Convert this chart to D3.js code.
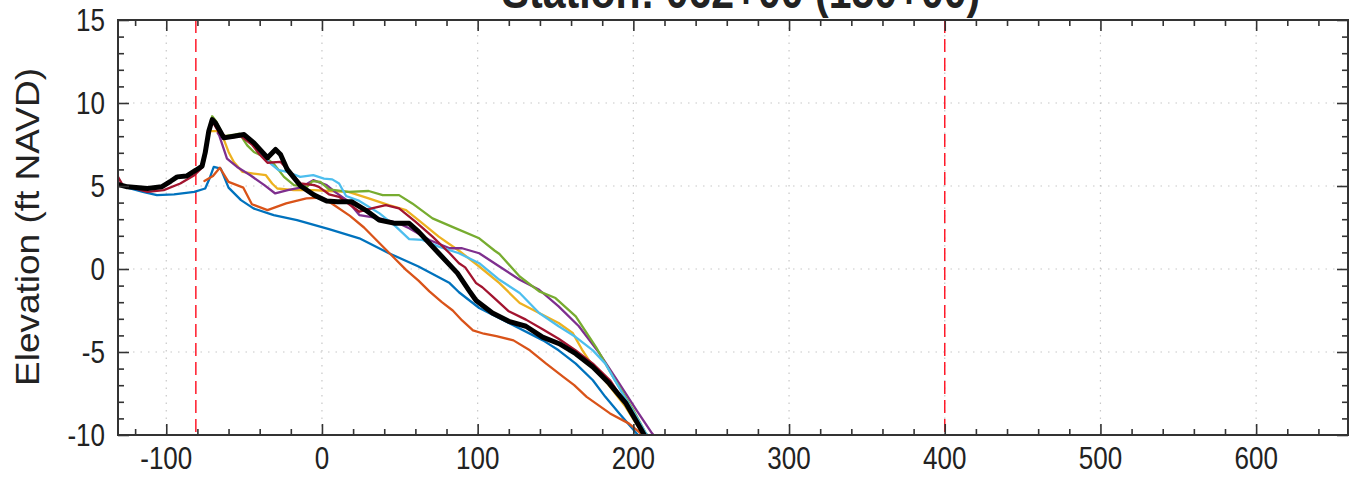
<!DOCTYPE html>
<html><head><meta charset="utf-8">
<script src="https://cdn.jsdelivr.net/npm/d3@7/dist/d3.min.js"></script>
<style>body{margin:0;background:#fff}svg{display:block}text{font-family:"Liberation Sans",Arial,sans-serif;fill:#222}</style>
</head><body><svg id="c" width="1356" height="486"></svg>
<script>
const titleText = "Station: 062+00 (150+00)";
const yLabel = "Elevation (ft NAVD)";
const xMajor = [-100,0,100,200,300,400,500,600];
const yMajor = [-10,-5,0,5,10,15];
const refLines = [-81, 400];

const blue = [[-131,5.15],[-125,4.9],[-115,4.65],[-106,4.45],[-95,4.5],[-82,4.65],[-75,4.85],[-72,5.5],[-69.5,6.15],[-65,6.05],[-60,4.9],[-52,4.15],[-44,3.65],[-31,3.25],[-16,2.95],[4.5,2.4],[24,1.85],[43,0.95],[62,0.15],[82,-0.85],[88,-1.4],[101,-2.35],[120,-3.25],[142,-4.3],[152,-4.9],[163,-5.7],[174,-6.7],[182,-7.7],[191,-8.7],[202,-9.9],[203,-10]];
const orange = [[-75.5,5.3],[-70,5.6],[-65.6,6.1],[-60,5.25],[-50.5,4.9],[-45,3.9],[-35,3.55],[-23,3.95],[-10,4.25],[0,4.3],[7,3.9],[18,3.2],[27,2.5],[37,1.55],[45,0.8],[54,-0.05],[62,-0.7],[69,-1.35],[77,-2.0],[84,-2.5],[90,-3.1],[97,-3.7],[104,-3.9],[112,-4.05],[123,-4.3],[133.5,-4.9],[144,-5.7],[155,-6.5],[162,-7.0],[170,-7.7],[185,-8.7],[197,-9.3],[206,-10]];
const yellow = [[-73,8.3],[-67,8.3],[-64,8.05],[-60,7.05],[-56.6,6.45],[-51,5.85],[-44,5.75],[-36,5.65],[-32,5.15],[-28.7,4.85],[-18,4.75],[-5,4.75],[4.5,4.7],[17,4.65],[30,4.25],[43,3.85],[54,3.55],[62,2.95],[75,1.95],[88,1.1],[101,0.15],[114,-0.85],[127,-2.05],[139.5,-2.65],[152,-3.25],[161,-3.85],[167,-4.85],[174,-5.85],[185,-7.1],[195,-8.3],[205,-9.8],[206,-10]];
const purple = [[-67,8.2],[-66,8.05],[-61,6.65],[-54.5,6.15],[-46,5.65],[-37,5.05],[-30,4.55],[-22,4.75],[-14,4.9],[-5.6,5.35],[3,5.05],[9,4.6],[16,4.15],[24,3.25],[37,3.05],[49.5,2.75],[56,2.45],[69,1.75],[82,1.25],[90,1.25],[101,0.95],[114,0.15],[127,-0.65],[139.5,-1.25],[152,-2.25],[165,-3.45],[178,-5.05],[191,-6.9],[202,-8.5],[212,-9.9],[213,-10]];
const green = [[-76,6.3],[-73,8.3],[-70.5,9.2],[-68,8.9],[-63,8.0],[-56,8.1],[-53,8.15],[-48,7.45],[-43.7,7.05],[-37,6.75],[-31,6.35],[-24.4,5.55],[-18,5.05],[-9.5,4.95],[-6,5.3],[-1,5.25],[4.5,4.8],[17,4.65],[30,4.7],[39,4.45],[49.5,4.45],[58,3.95],[71,3.05],[86,2.45],[101,1.85],[111,1.1],[114,0.9],[127,-0.45],[139.5,-1.35],[150,-1.75],[163,-2.85],[176,-4.7],[187,-6.5],[200,-8.5],[208,-9.9],[209,-10]];
const cyan = [[-50,8.05],[-41.6,7.25],[-33,6.35],[-27.7,5.95],[-22.3,5.85],[-14,5.55],[-5.6,5.65],[1.3,5.45],[6.6,5.4],[11,5.15],[15.5,4.4],[24,4.1],[37,3.35],[47.5,2.55],[56,1.8],[64.5,1.75],[75,1.35],[88,0.95],[101,0.35],[114,-0.65],[127,-1.45],[139.5,-2.65],[152,-3.45],[163,-4.1],[174,-4.9],[182,-5.7],[193,-7.5],[202,-8.9],[208,-9.9],[209,-10]];
const darkred = [[-131,5.55],[-128,5.05],[-112,4.65],[-101.6,4.75],[-91,5.15],[-82,5.65],[-77,6.1],[-73,8.0],[-70.5,8.9],[-66,8.2],[-60,7.9],[-52,8.0],[-45,7.5],[-40,6.9],[-35,6.4],[-26.6,6.45],[-20,5.8],[-13.7,5.15],[-5,5.05],[-2,4.95],[4.5,4.5],[11,4.35],[24,3.45],[32,3.65],[41,3.85],[49.5,3.65],[60,2.85],[71,1.95],[82,0.95],[88,0.35],[92,0.1],[99,-0.85],[103,-1.1],[109.5,-1.65],[120,-2.55],[131,-3.05],[142,-3.65],[152,-4.2],[163,-4.9],[174,-5.7],[185,-6.7],[195,-8.1],[205,-9.7],[206,-10]];
const black = [[-131,5.1],[-125,4.95],[-112,4.85],[-103,4.95],[-97,5.3],[-93,5.55],[-87,5.6],[-81,5.95],[-77,6.2],[-75,7.0],[-72.7,8.3],[-70.5,9.0],[-68.4,8.8],[-63,7.9],[-56.6,8.0],[-50,8.1],[-43.7,7.6],[-35,6.7],[-29.8,7.2],[-26.6,6.9],[-22.3,6.0],[-13.7,5.0],[-5,4.45],[3,4.1],[10,4.05],[19,4.05],[28,3.55],[36.7,2.95],[47,2.75],[56,2.75],[62,2.25],[75,0.95],[87,-0.25],[94.5,-1.3],[99,-1.9],[109.5,-2.65],[120,-3.15],[131,-3.45],[141.7,-4.1],[152.4,-4.5],[163,-5.1],[174,-5.9],[184.6,-6.9],[195.3,-8.1],[204,-9.5],[207,-10]];

const seriesList = [
  {d: blue, c: "#0072BD", w: 2.3},
  {d: orange, c: "#D95319", w: 2.3},
  {d: yellow, c: "#EDB120", w: 2.3},
  {d: purple, c: "#7E2F8E", w: 2.3},
  {d: green, c: "#77AC30", w: 2.3},
  {d: cyan, c: "#4DBEEE", w: 2.3},
  {d: darkred, c: "#A2142F", w: 2.3},
  {d: black, c: "#000000", w: 5}
];

const L = 118, R = 1348, T = 20, B = 435;
const x = d3.scaleLinear().domain([-131, 659]).range([L, R]);
const y = d3.scaleLinear().domain([-10, 15]).range([B, T]);
const svg = d3.select("#c");

svg.append("defs").append("clipPath").attr("id","clip").append("rect")
  .attr("x", L).attr("y", T).attr("width", R-L).attr("height", B-T);

// grid
const g = svg.append("g").attr("stroke", "#c8c8c8").attr("stroke-width", 1.2).attr("stroke-dasharray", "1.5,6");
g.selectAll(".gx").data(xMajor).enter().append("line")
  .attr("x1", d => x(d)).attr("x2", d => x(d)).attr("y1", T).attr("y2", B);
g.selectAll(".gy").data(yMajor.filter(v => v > -10 && v < 15)).enter().append("line")
  .attr("y1", d => y(d)).attr("y2", d => y(d)).attr("x1", L).attr("x2", R);

// reference lines
svg.append("g").selectAll("line").data(refLines).enter().append("line")
  .attr("x1", d => x(d)).attr("x2", d => x(d)).attr("y1", T).attr("y2", B)
  .attr("stroke", "#ff1a2a").attr("stroke-width", 1.5).attr("stroke-dasharray", "13,6");

// series
const line = d3.line().x(d => x(d[0])).y(d => y(d[1]));
svg.append("g").attr("clip-path", "url(#clip)").selectAll("path").data(seriesList).enter().append("path")
  .attr("d", s => line(s.d)).attr("fill", "none").attr("stroke", s => s.c)
  .attr("stroke-width", s => s.w).attr("stroke-linejoin", "round").attr("stroke-linecap", "round");

// axes ticks (inward)
const xMinor = d3.range(-120, 660, 20).filter(v => !xMajor.includes(v));
const yMinor = d3.range(-10, 15.01, 1).filter(v => !yMajor.includes(v));
function ax(gen, scale, vals, size, tr) {
  svg.append("g").attr("transform", tr)
    .call(gen(scale).tickValues(vals).tickSize(size).tickFormat(""))
    .call(s => s.select(".domain").remove())
    .selectAll("line").attr("stroke", "#333").attr("stroke-width", 1.6);
}
ax(d3.axisBottom, x, xMajor, -11, `translate(0,${B})`);
ax(d3.axisBottom, x, xMinor, -6, `translate(0,${B})`);
ax(d3.axisTop, x, xMajor, -11, `translate(0,${T})`);
ax(d3.axisTop, x, xMinor, -6, `translate(0,${T})`);
ax(d3.axisLeft, y, yMajor, -11, `translate(${L},0)`);
ax(d3.axisLeft, y, yMinor, -6, `translate(${L},0)`);
ax(d3.axisRight, y, yMajor, -11, `translate(${R},0)`);
ax(d3.axisRight, y, yMinor, -6, `translate(${R},0)`);

// box
svg.append("rect").attr("x", L).attr("y", T).attr("width", R-L).attr("height", B-T)
  .attr("fill", "none").attr("stroke", "#333").attr("stroke-width", 2);

// tick labels
svg.append("g").selectAll("text").data(xMajor).enter().append("text")
  .attr("transform", d => `translate(${x(d)},469) scale(0.84,1)`)
  .attr("text-anchor", "middle").attr("font-size", 31).text(d => d);
svg.append("g").selectAll("text").data(yMajor).enter().append("text")
  .attr("transform", d => `translate(105,${y(d) + 11}) scale(0.84,1)`)
  .attr("text-anchor", "end").attr("font-size", 31).text(d => d);

// y label
svg.append("text").attr("transform", "translate(39,227) scale(0.88,1) rotate(-90)")
  .attr("text-anchor", "middle").attr("font-size", 37).text(yLabel);

// title (cut off at the top edge, as in the reference)
svg.append("text").attr("transform", "translate(741,8) scale(1,1.15)")
  .attr("text-anchor", "middle").attr("font-size", 41).attr("font-weight", "bold").text(titleText);
</script></body></html>
